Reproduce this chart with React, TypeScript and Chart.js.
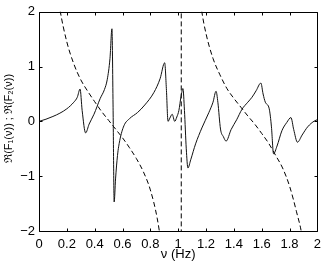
import { useEffect, useRef } from "react";
import { Chart, registerables } from "chart.js";
Chart.register(...registerables);

const solidX = [0, 0.05, 0.1, 0.15, 0.2, 0.25, 0.275, 0.295, 0.31, 0.335, 0.36, 0.395, 0.44, 0.47, 0.49, 0.51, 0.524, 0.532, 0.54, 0.55, 0.564, 0.58, 0.61, 0.65, 0.707, 0.76, 0.826, 0.87, 0.903, 0.915, 0.927, 0.94, 0.957, 0.975, 0.99, 1.005, 1.02, 1.034, 1.045, 1.058, 1.07, 1.09, 1.125, 1.17, 1.22, 1.25, 1.272, 1.285, 1.304, 1.325, 1.344, 1.38, 1.42, 1.458, 1.5, 1.53, 1.56, 1.594, 1.61, 1.626, 1.654, 1.67, 1.685, 1.71, 1.745, 1.78, 1.81, 1.83, 1.857, 1.89, 1.93, 1.98, 2.0];
const solidY = [0, 0.04, 0.09, 0.15, 0.23, 0.35, 0.44, 0.59, 0.2, -0.21, -0.05, 0.13, 0.42, 0.58, 0.76, 1.15, 1.69, 0.3, -1.47, -1.05, -0.62, -0.35, -0.08, 0.05, 0.16, 0.3, 0.53, 0.78, 1.07, 0.6, 0.0, 0.06, 0.13, 0.0, 0.08, 0.2, 0.45, 0.6, 0.2, -0.5, -0.85, -0.7, -0.41, -0.12, 0.16, 0.35, 0.55, 0.35, -0.14, -0.28, -0.36, -0.15, 0.03, 0.22, 0.35, 0.44, 0.56, 0.7, 0.5, 0.35, 0.23, -0.1, -0.59, -0.45, -0.17, -0.02, 0.07, -0.15, -0.38, -0.25, -0.1, 0.01, 0.03];

const dashAX = [0.12, 0.15, 0.2, 0.25, 0.3, 0.35, 0.4, 0.45, 0.5, 0.55, 0.6, 0.65, 0.7, 0.75, 0.8, 0.85, 0.88, 0.92];
const dashAY = [2.6, 2.05, 1.45, 1.05, 0.76, 0.55, 0.36, 0.18, 0.02, -0.14, -0.3, -0.48, -0.68, -0.92, -1.25, -1.78, -2.3, -3.4];
const dashBX = [1.022, 1.022];
const dashBY = [-2.5, 2.5];
const dashCX = [1.14, 1.17, 1.2, 1.25, 1.3, 1.35, 1.4, 1.45, 1.5, 1.55, 1.6, 1.65, 1.7, 1.75, 1.8, 1.85, 1.89, 1.93];
const dashCY = [2.6, 2.0, 1.6, 1.15, 0.85, 0.6, 0.42, 0.26, 0.1, -0.05, -0.22, -0.4, -0.62, -0.85, -1.18, -1.65, -2.1, -3.0];

const xTicks = [0, 0.2, 0.4, 0.6, 0.8, 1, 1.2, 1.4, 1.6, 1.8, 2];
const xTickLabels = ["0", "0.2", "0.4", "0.6", "0.8", "1", "1.2", "1.4", "1.6", "1.8", "2"];
const yTicks = [-2, -1, 0, 1, 2];
const yTickLabels = ["\u22122", "\u22121", "0", "1", "2"];

const xTitle = "\u03bd (Hz)";
const yTitle = "\u00a0\u00a0\u211c(F\u2081(\u03bd)) ; \u211c(F\u2082(\u03bd))";

const pts = (xs: number[], ys: number[]) => xs.map((x, i) => ({ x, y: ys[i] }));

const FONT = "'Liberation Sans', Arial, Helvetica, sans-serif";

const framePlugin = {
  id: "frame",
  afterDraw(chart: any) {
    const { ctx, chartArea: a, scales } = chart;
    ctx.save();
    ctx.strokeStyle = "#000";
    ctx.lineWidth = 1;
    const l = Math.round(a.left) + 0.5, r = Math.round(a.right) + 0.5;
    const t = Math.round(a.top) + 0.5, b = Math.round(a.bottom) + 0.5;
    ctx.beginPath();
    ctx.rect(l, t, r - l, b - t);
    ctx.stroke();
    const tl = 3;
    ctx.beginPath();
    for (const v of xTicks) {
      const px = Math.round(scales.x.getPixelForValue(v)) + 0.5;
      ctx.moveTo(px, b); ctx.lineTo(px, b - tl);
      ctx.moveTo(px, t); ctx.lineTo(px, t + tl);
    }
    for (const v of yTicks) {
      const py = Math.round(scales.y.getPixelForValue(v)) + 0.5;
      ctx.moveTo(l, py); ctx.lineTo(l + tl, py);
      ctx.moveTo(r, py); ctx.lineTo(r - tl, py);
    }
    ctx.stroke();
    ctx.restore();
  },
};

export default function App() {
  const ref = useRef<HTMLCanvasElement>(null);
  useEffect(() => {
    const dashStyle = {
      borderColor: "#000",
      borderWidth: 1,
      borderDash: [5, 3],
      pointRadius: 0,
      cubicInterpolationMode: "monotone" as const,
    };
    const chart = new Chart(ref.current!, {
      type: "line",
      data: {
        datasets: [
          { data: pts(solidX, solidY), borderColor: "#111", borderWidth: 1, pointRadius: 0, cubicInterpolationMode: "monotone" },
          { data: pts(dashAX, dashAY), ...dashStyle },
          { data: pts(dashBX, dashBY), ...dashStyle, cubicInterpolationMode: "default", tension: 0 },
          { data: pts(dashCX, dashCY), ...dashStyle },
        ],
      },
      options: {
        animation: false,
        responsive: false,
        maintainAspectRatio: false,
        layout: { padding: { left: 0, right: 8, top: 10, bottom: 0 } },
        plugins: { legend: { display: false }, tooltip: { enabled: false } },
        scales: {
          x: {
            type: "linear",
            min: 0,
            max: 2,
            grid: { display: false, drawTicks: false },
            border: { display: false },
            afterBuildTicks: (s: any) => { s.ticks = xTicks.map((v) => ({ value: v })); },
            afterFit: (s: any) => { s.height = 31; },
            ticks: {
              autoSkip: false,
              maxRotation: 0,
              padding: 6,
              color: "#000",
              font: { family: FONT, size: 13 },
              callback: (v: any) => { const i = xTicks.indexOf(Number(v)); return i >= 0 ? xTickLabels[i] : ""; },
            },
            title: { display: true, text: xTitle, color: "#000", font: { family: FONT, size: 13 }, padding: { top: -3, bottom: 0 } },
          },
          y: {
            type: "linear",
            min: -2,
            max: 2,
            grid: { display: false, drawTicks: false },
            border: { display: false },
            afterBuildTicks: (s: any) => { s.ticks = yTicks.map((v) => ({ value: v })); },
            afterFit: (s: any) => { s.width = 39; },
            ticks: {
              autoSkip: false,
              padding: 4,
              color: "#000",
              font: { family: FONT, size: 13 },
              callback: (v: any) => { const i = yTicks.indexOf(Number(v)); return i >= 0 ? yTickLabels[i] : ""; },
            },
            title: { display: true, text: yTitle, color: "#000", font: { family: FONT, size: 11 }, padding: { top: 2, bottom: 0 } },
          },
        },
      },
      plugins: [framePlugin],
    });
    return () => chart.destroy();
  }, []);
  return (
    <div style={{ position: "absolute", left: 0, top: 0, width: 327, height: 262, background: "#fff" }}>
      <canvas ref={ref} width={327} height={262} style={{ width: 327, height: 262, display: "block" }} />
    </div>
  );
}
